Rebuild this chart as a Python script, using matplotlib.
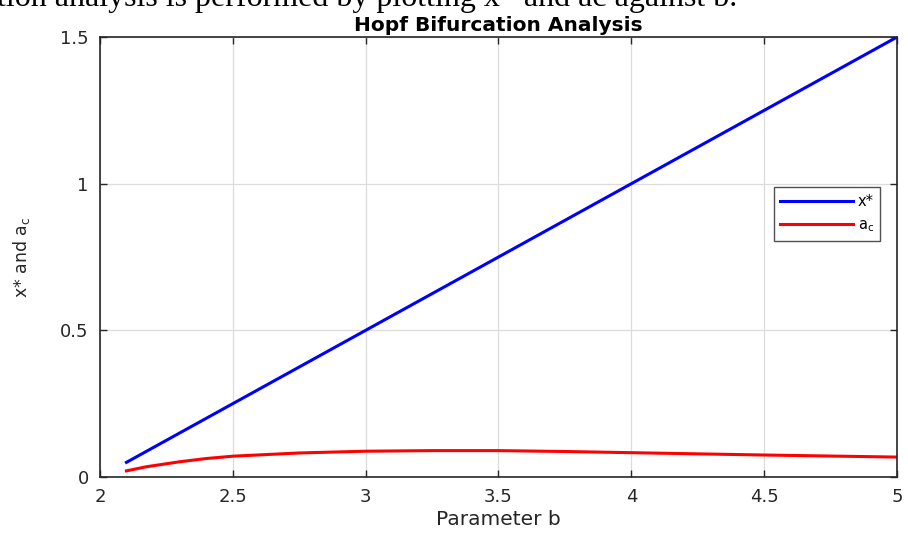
import matplotlib
matplotlib.use('AGG')
import matplotlib.pyplot as plt

# values
b_line = [2.1, 5.0]
x_star = [0.05, 1.5]

b_ac = [2.1, 2.175, 2.3, 2.4, 2.5, 2.75, 3.0, 3.25, 3.5, 3.75, 4.0, 4.5, 5.0]
a_c = [0.021, 0.035, 0.052, 0.063, 0.071, 0.082, 0.088, 0.090, 0.090, 0.087, 0.083, 0.075, 0.068]

x_ticks = [2, 2.5, 3, 3.5, 4, 4.5, 5]
x_tick_labels = ['2', '2.5', '3', '3.5', '4', '4.5', '5']
y_ticks = [0, 0.5, 1, 1.5]
y_tick_labels = ['0', '0.5', '1', '1.5']

plt.rcParams['font.family'] = ['DejaVu Sans']
plt.rcParams['mathtext.fontset'] = 'dejavusans'

fig = plt.figure(figsize=(9.08, 5.34), dpi=100)
ax = fig.add_axes([0.110, 0.1067, 0.878, 0.824])

# cropped sentence from the page above the figure
fig.text(-0.003, 0.988, 'tion analysis is performed by plotting x* and ac against b.',
         family='Liberation Serif', fontsize=23, va='baseline', ha='left')

ax.plot(b_line, x_star, color='#0000ff', lw=2.2, label='x*')
ax.plot(b_ac, a_c, color='#ff0000', lw=2.2, label='a$_\\mathrm{c}$')

ax.set_xlim(2, 5)
ax.set_ylim(0, 1.5)
ax.set_xticks(x_ticks)
ax.set_xticklabels(x_tick_labels)
ax.set_yticks(y_ticks)
ax.set_yticklabels(y_tick_labels)

ax.grid(True, color='#dcdcdc', lw=0.9)
ax.set_axisbelow(True)
ax.tick_params(direction='in', top=True, right=True, length=5, width=1,
               colors='#262626', labelsize=13)
ax.tick_params(axis='x', pad=8)
ax.tick_params(axis='y', pad=8)
for s in ax.spines.values():
    s.set_color('#262626')
    s.set_linewidth(1.2)

ax.set_title('Hopf Bifurcation Analysis', fontsize=14.5, fontweight='bold', pad=4)
ax.set_xlabel('Parameter b', fontsize=14.5, color='#262626', labelpad=3)
ax.set_ylabel('x* and a$_\\mathrm{c}$', fontsize=12.5, color='#262626', labelpad=20)

leg = ax.legend(loc='upper right', bbox_to_anchor=(0.979, 0.659), fontsize=10.5,
                handlelength=5.0, frameon=True, fancybox=False, borderaxespad=0,
                handletextpad=0.3, borderpad=0.45, labelspacing=0.6)
leg.get_frame().set_edgecolor('#262626')
leg.get_frame().set_linewidth(1)

plt.savefig('out.png', dpi=100)
